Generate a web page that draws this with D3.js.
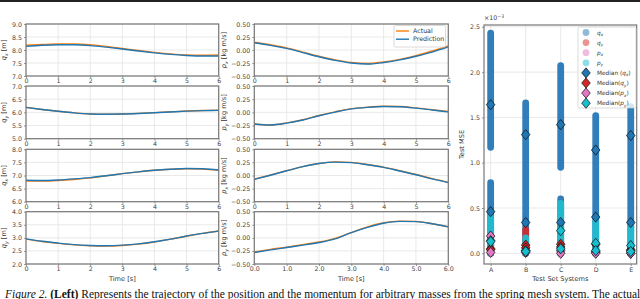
<!DOCTYPE html>
<html>
<head>
<meta charset="utf-8">
<script src="https://cdn.jsdelivr.net/npm/d3@7"></script>
<style>
  body { margin: 0; background: #fff; }
  svg { display: block; }
  text { font-family: "DejaVu Sans", sans-serif; }
</style>
</head>
<body>
<div id="chart"></div>
<script>
// trajectories (t in s)
var times = [0, 0.5, 1, 1.5, 2, 2.5, 3, 3.5, 4, 4.5, 5, 5.5, 6];

var qx1Actual = [8.18, 8.21, 8.23, 8.23, 8.20, 8.14, 8.06, 7.98, 7.91, 7.85, 7.81, 7.80, 7.81];
var qx1Pred   = [8.14, 8.18, 8.20, 8.20, 8.17, 8.11, 8.04, 7.96, 7.89, 7.83, 7.79, 7.77, 7.77];
var qy1Actual = [6.19, 6.11, 6.04, 5.98, 5.94, 5.93, 5.94, 5.96, 5.99, 6.02, 6.05, 6.07, 6.08];
var qy1Pred   = [6.19, 6.11, 6.04, 5.98, 5.94, 5.93, 5.935, 5.955, 5.985, 6.015, 6.045, 6.065, 6.075];
var qx2Actual = [6.79, 6.79, 6.81, 6.85, 6.91, 6.99, 7.07, 7.14, 7.20, 7.24, 7.26, 7.25, 7.21];
var qx2Pred   = [6.82, 6.81, 6.83, 6.87, 6.92, 6.99, 7.07, 7.14, 7.20, 7.24, 7.27, 7.26, 7.21];
var qy2Actual = [2.95, 2.86, 2.79, 2.73, 2.70, 2.69, 2.71, 2.76, 2.84, 2.95, 3.06, 3.17, 3.26];
var qy2Pred   = [2.96, 2.87, 2.80, 2.74, 2.71, 2.70, 2.72, 2.77, 2.85, 2.95, 3.07, 3.17, 3.26];

var px1Actual = [0.15, 0.10, 0.04, -0.04, -0.12, -0.19, -0.24, -0.26, -0.23, -0.18, -0.11, -0.02, 0.08];
var px1Pred   = [0.14, 0.09, 0.03, -0.05, -0.13, -0.20, -0.25, -0.27, -0.24, -0.19, -0.12, -0.04, 0.06];
var py1Actual = [-0.22, -0.24, -0.20, -0.14, -0.06, 0.01, 0.07, 0.10, 0.115, 0.11, 0.085, 0.05, 0.015];
var py1Pred   = [-0.22, -0.24, -0.205, -0.145, -0.065, 0.005, 0.065, 0.095, 0.11, 0.105, 0.08, 0.045, 0.01];
var px2Actual = [-0.07, 0.01, 0.09, 0.17, 0.23, 0.26, 0.25, 0.21, 0.16, 0.09, 0.02, -0.06, -0.13];
var px2Pred   = [-0.075, 0.005, 0.09, 0.17, 0.23, 0.255, 0.245, 0.205, 0.155, 0.085, 0.015, -0.065, -0.135];
var py2Actual = [-0.27, -0.22, -0.18, -0.13, -0.08, -0.01, 0.10, 0.21, 0.29, 0.32, 0.315, 0.27, 0.21];
var py2Pred   = [-0.28, -0.23, -0.185, -0.14, -0.09, -0.02, 0.10, 0.20, 0.28, 0.315, 0.31, 0.27, 0.21];

// test MSE per system (x 1e-3): point strips as [low, high] and medians
var systems = ["A", "B", "C", "D", "E"];
var qxStrips = [[[0, 0.78], [1.17, 2.43]], [[0, 1.66]], [[0, 0.60], [0.95, 2.07]], [[0, 1.52]], [[0, 1.62]]];
var qyStrips = [[[0, 0.10]], [[0, 0.26]], [[0, 0.14]], [[0, 0.12]], [[0, 0.06]]];
var pxStrips = [[[0, 0.20]], [[0, 0.06]], [[0, 0.05]], [[0, 0.03]], [[0, 0.03]]];
var pyStrips = [[[0, 0.40]], [[0, 0.17]], [[0, 0.55]], [[0, 0.35]], [[0, 0.30]]];
var qxMedians = [[1.64, 0.46], [1.31, 0.34], [1.42, 0.34], [1.14, 0.40], [1.30, 0.34]];
var qyMedians = [[0.05, 0.04], [0.09, 0.06], [0.10, 0.07], [0.10, 0.02], [0.04, 0.03]];
var pxMedians = [[0.19, 0.01], [0.03, 0.01], [0.03, 0.0], [0.01, 0.0], [0.0, 0.0]];
var pyMedians = [[0.14, 0.13], [0.03, 0.02], [0.25, 0.05], [0.11, 0.03], [0.085, 0.02]];

var orange = "#ff7f0e", blue = "#1f77b4", red = "#d62728", pink = "#e377c2", cyan = "#17becf";

var svg = d3.select("#chart").append("svg")
    .attr("width", 640)
    .attr("height", 299);

// top rule of the page
svg.append("rect").attr("x", 0).attr("y", 0).attr("width", 640).attr("height", 2).attr("fill", "#222");

var rows = [[24, 76], [86, 138.7], [149.3, 201.7], [211.7, 264]];
var cols = [[26, 218.7], [254.3, 448.3]];

var panels = [
  { col: 0, row: 0, a: qx1Actual, p: qx1Pred, dom: [7, 9], lab: ["q", "x", " [m]"] },
  { col: 0, row: 1, a: qy1Actual, p: qy1Pred, dom: [5, 7], lab: ["q", "y", " [m]"] },
  { col: 0, row: 2, a: qx2Actual, p: qx2Pred, dom: [6, 8], lab: ["q", "x", " [m]"] },
  { col: 0, row: 3, a: qy2Actual, p: qy2Pred, dom: [2, 4], lab: ["q", "y", " [m]"] },
  { col: 1, row: 0, a: px1Actual, p: px1Pred, dom: [-0.5, 0.5], lab: ["p", "x", " [kg m/s]"] },
  { col: 1, row: 1, a: py1Actual, p: py1Pred, dom: [-0.5, 0.5], lab: ["p", "y", " [kg m/s]"] },
  { col: 1, row: 2, a: px2Actual, p: px2Pred, dom: [-0.5, 0.5], lab: ["p", "x", " [kg m/s]"] },
  { col: 1, row: 3, a: py2Actual, p: py2Pred, dom: [-0.5, 0.5], lab: ["p", "y", " [kg m/s]"] }
];

function styleAxis(g) {
  g.select(".domain").remove();
  g.selectAll(".tick line").attr("stroke", "#555").attr("stroke-width", 0.6);
  g.selectAll(".tick text").attr("fill", "#444").style("font-size", "6.3px");
}

function mathLabel(t, parts, size) {
  t.append("tspan").style("font-style", "italic").text(parts[0]);
  t.append("tspan").style("font-style", "italic").style("font-size", (size * 0.7) + "px")
    .attr("dy", 1.5).text(parts[1]);
  t.append("tspan").attr("dy", -1.5).text(parts[2]);
}

panels.forEach(function(pn) {
  var x0 = cols[pn.col][0], x1 = cols[pn.col][1];
  var y0 = rows[pn.row][0], y1 = rows[pn.row][1];
  var x = d3.scaleLinear().domain([0, 6]).range([x0, x1]);
  var y = d3.scaleLinear().domain(pn.dom).range([y1, y0]);
  var yTicks = d3.range(5).map(function(i) { return pn.dom[0] + i * (pn.dom[1] - pn.dom[0]) / 4; });
  var g = svg.append("g");

  // grid
  g.selectAll(".gx").data(d3.range(7)).enter().append("line")
    .attr("x1", function(d) { return x(d); }).attr("x2", function(d) { return x(d); })
    .attr("y1", y0).attr("y2", y1).attr("stroke", "#e6e6e6").attr("stroke-width", 0.9);
  g.selectAll(".gy").data(yTicks).enter().append("line")
    .attr("x1", x0).attr("x2", x1)
    .attr("y1", function(d) { return y(d); }).attr("y2", function(d) { return y(d); })
    .attr("stroke", "#e6e6e6").attr("stroke-width", 0.9);

  var line = d3.line()
    .x(function(d, i) { return x(times[i]); })
    .y(function(d) { return y(d); })
    .curve(d3.curveMonotoneX);

  g.append("path").datum(pn.a).attr("d", line).attr("fill", "none")
    .attr("stroke", orange).attr("stroke-width", 1.4);
  g.append("path").datum(pn.p).attr("d", line).attr("fill", "none")
    .attr("stroke", blue).attr("stroke-width", 1.4);

  var fmtY = pn.col === 0 ? d3.format(".1f") : d3.format(".2f");
  var fmtX = (pn.col === 1 && pn.row === 3) ? d3.format(".1f") : d3.format("d");

  g.append("g").attr("transform", "translate(" + x0 + ",0)")
    .call(d3.axisLeft(y).tickValues(yTicks).tickFormat(fmtY).tickSize(2).tickPadding(2))
    .call(styleAxis);
  g.append("g").attr("transform", "translate(0," + y1 + ")")
    .call(d3.axisBottom(x).tickValues(d3.range(7)).tickFormat(fmtX).tickSize(2).tickPadding(1))
    .call(styleAxis);

  g.append("rect").attr("x", x0).attr("y", y0).attr("width", x1 - x0).attr("height", y1 - y0)
    .attr("fill", "none").attr("stroke", "#777").attr("stroke-width", 1.2);

  var lx = pn.col === 0 ? 6 : 226;
  var t = g.append("text")
    .attr("transform", "translate(" + lx + "," + ((y0 + y1) / 2) + ") rotate(-90)")
    .attr("text-anchor", "middle").attr("fill", "#333").style("font-size", "6.6px");
  mathLabel(t, pn.lab, 6.6);

  if (pn.row === 3) {
    svg.append("text").attr("x", (x0 + x1) / 2).attr("y", 281).attr("text-anchor", "middle")
      .attr("fill", "#333").style("font-size", "6.6px").text("Time [s]");
  }

  // legend on the first momentum panel
  if (pn.col === 1 && pn.row === 0) {
    var lg = g.append("g");
    lg.append("rect").attr("x", 394).attr("y", 25.5).attr("width", 51.5).attr("height", 21.5)
      .attr("rx", 1.5).attr("fill", "#fff").attr("fill-opacity", 0.85)
      .attr("stroke", "#ccc").attr("stroke-width", 0.7);
    [["Actual", orange], ["Prediction", blue]].forEach(function(e, i) {
      var yy = 31 + i * 8.2;
      lg.append("line").attr("x1", 396).attr("x2", 409).attr("y1", yy).attr("y2", yy)
        .attr("stroke", e[1]).attr("stroke-width", 1.4);
      lg.append("text").attr("x", 413).attr("y", yy + 2.2).attr("fill", "#333")
        .style("font-size", "6.3px").text(e[0]);
    });
  }
});

// ---- right: test MSE per system
var rx0 = 484, rx1 = 636.7, ry0 = 25, ry1 = 264;
var xs = d3.scaleLinear().domain([-0.19, 4.17]).range([rx0, rx1]);
var ys = d3.scaleLinear().domain([-0.118, 2.52]).range([ry1, ry0]);
var rg = svg.append("g");
var msTicks = [0, 0.5, 1.0, 1.5, 2.0, 2.5];

rg.selectAll(".gx").data(systems).enter().append("line")
  .attr("x1", function(d, i) { return xs(i); }).attr("x2", function(d, i) { return xs(i); })
  .attr("y1", ry0).attr("y2", ry1).attr("stroke", "#e6e6e6").attr("stroke-width", 0.9);
rg.selectAll(".gy").data(msTicks).enter().append("line")
  .attr("x1", rx0).attr("x2", rx1)
  .attr("y1", function(d) { return ys(d); }).attr("y2", function(d) { return ys(d); })
  .attr("stroke", "#e6e6e6").attr("stroke-width", 0.9);

function strips(data, color, op) {
  data.forEach(function(list, i) {
    list.forEach(function(r) {
      rg.append("line")
        .attr("x1", xs(i)).attr("x2", xs(i))
        .attr("y1", ys(r[0])).attr("y2", ys(r[1]))
        .attr("stroke", color).attr("stroke-opacity", op)
        .attr("stroke-width", 6.8).attr("stroke-linecap", "round");
    });
  });
}
strips(qxStrips, "#2677b6", 0.95);
strips(qyStrips, red, 0.9);
strips(pxStrips, pink, 0.9);
strips(pyStrips, "#22bccd", 0.95);

var diamond = d3.symbol().type(d3.symbolDiamond).size(30);
function medians(data, color) {
  data.forEach(function(vals, i) {
    vals.forEach(function(v) {
      rg.append("path").attr("d", diamond)
        .attr("transform", "translate(" + xs(i) + "," + ys(v) + ") scale(1.45,1)")
        .attr("fill", color).attr("stroke", "#111").attr("stroke-width", 0.6);
    });
  });
}
medians(qxMedians, blue);
medians(qyMedians, red);
medians(pxMedians, pink);
medians(pyMedians, cyan);

rg.append("g").attr("transform", "translate(" + rx0 + ",0)")
  .call(d3.axisLeft(ys).tickValues(msTicks).tickFormat(d3.format(".1f")).tickSize(2).tickPadding(2))
  .call(styleAxis);
rg.append("g").attr("transform", "translate(0," + ry1 + ")")
  .call(d3.axisBottom(xs).tickValues(d3.range(5)).tickFormat(function(d) { return systems[d]; })
    .tickSize(2).tickPadding(2))
  .call(styleAxis);
rg.append("rect").attr("x", rx0).attr("y", ry0).attr("width", rx1 - rx0).attr("height", ry1 - ry0)
  .attr("fill", "none").attr("stroke", "#777").attr("stroke-width", 1.2);

var sci = rg.append("text").attr("x", rx0).attr("y", 20).attr("fill", "#444").style("font-size", "6.3px");
sci.append("tspan").text("×10");
sci.append("tspan").attr("dy", -2.5).style("font-size", "4.6px").text("−3");

rg.append("text").attr("transform", "translate(464," + ((ry0 + ry1) / 2) + ") rotate(-90)")
  .attr("text-anchor", "middle").attr("fill", "#333").style("font-size", "6.6px").text("Test MSE");
rg.append("text").attr("x", (rx0 + rx1) / 2).attr("y", 281).attr("text-anchor", "middle")
  .attr("fill", "#333").style("font-size", "6.6px").text("Test Set Systems");

// legend
var leg = rg.append("g");
leg.append("rect").attr("x", 578).attr("y", 27).attr("width", 58).attr("height", 81)
  .attr("rx", 1.5).attr("fill", "#fff").attr("fill-opacity", 0.8)
  .attr("stroke", "#ccc").attr("stroke-width", 0.7);
var legItems = [
  { c: blue, k: "pt", lab: ["q", "x", ""] },
  { c: red, k: "pt", lab: ["q", "y", ""] },
  { c: pink, k: "pt", lab: ["p", "x", ""] },
  { c: cyan, k: "pt", lab: ["p", "y", ""] },
  { c: blue, k: "med", pre: "Median (", lab: ["q", "x", ")"] },
  { c: red, k: "med", pre: "Median(", lab: ["q", "y", ")"] },
  { c: pink, k: "med", pre: "Median(", lab: ["p", "x", ")"] },
  { c: cyan, k: "med", pre: "Median(", lab: ["p", "y", ")"] }
];
legItems.forEach(function(e, i) {
  var yy = 32.5 + i * 10.1;
  if (e.k === "pt") {
    leg.append("circle").attr("cx", 586).attr("cy", yy).attr("r", 3.4)
      .attr("fill", e.c).attr("fill-opacity", 0.5);
  } else {
    leg.append("path").attr("d", diamond)
      .attr("transform", "translate(586," + yy + ") scale(1.45,1)")
      .attr("fill", e.c).attr("stroke", "#111").attr("stroke-width", 0.6);
  }
  var t = leg.append("text").attr("x", 597).attr("y", yy + 2).attr("fill", "#333").style("font-size", "5.8px");
  if (e.pre) t.append("tspan").text(e.pre);
  mathLabel(t, e.lab, 5.8);
});

// caption (cut by the bottom edge)
var cap = svg.append("text").attr("x", 5).attr("y", 298)
  .style("font-family", "'Liberation Serif', serif").style("font-size", "11.5px").attr("fill", "#111");
cap.append("tspan").style("font-style", "italic").text("Figure 2. ");
cap.append("tspan").style("font-weight", "bold").text("(Left)");
cap.append("tspan").text(" Represents the trajectory of the position and the momentum for arbitrary masses from the spring mesh system. The actual");
</script>
</body>
</html>
